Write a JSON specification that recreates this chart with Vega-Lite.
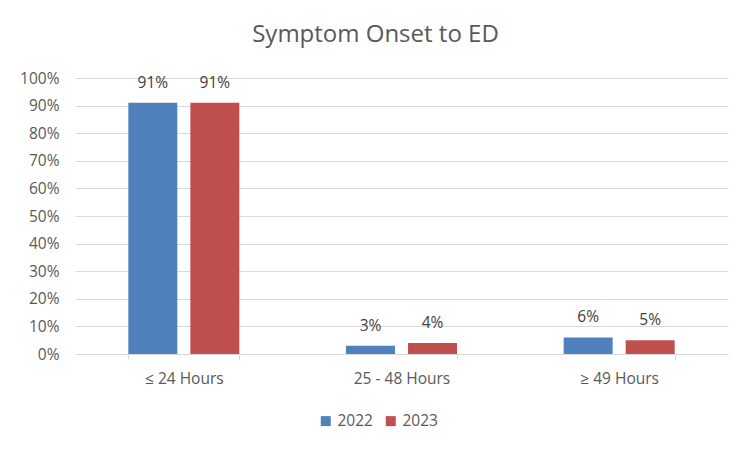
{
  "$schema": "https://vega.github.io/schema/vega-lite/v6.json",
  "autosize": {"type": "none"},
  "width": 653,
  "height": 276,
  "padding": {"left": 75, "top": 78, "right": 24, "bottom": 98},
  "background": "white",
  "config": {
    "font": "Open Sans",
    "view": {"stroke": null}
  },
  "title": {
    "text": "Symptom Onset to ED",
    "fontSize": 24,
    "fontWeight": "normal",
    "color": "#595959",
    "anchor": "middle",
    "frame": "group",
    "dx": -26,
    "offset": 24
  },
  "data": {
    "values": [
      {"category": "≤ 24 Hours", "year": "2022", "value": 0.91},
      {"category": "≤ 24 Hours", "year": "2023", "value": 0.91},
      {"category": "25 - 48 Hours", "year": "2022", "value": 0.03},
      {"category": "25 - 48 Hours", "year": "2023", "value": 0.04},
      {"category": "≥ 49 Hours", "year": "2022", "value": 0.06},
      {"category": "≥ 49 Hours", "year": "2023", "value": 0.05}
    ]
  },
  "encoding": {
    "x": {
      "field": "category",
      "type": "nominal",
      "sort": ["≤ 24 Hours", "25 - 48 Hours", "≥ 49 Hours"],
      "scale": {"paddingInner": 0.49, "paddingOuter": 0.245},
      "axis": {
        "title": null,
        "labelAngle": 0,
        "labelFontSize": 15.5,
        "labelColor": "#595959",
        "labelPadding": 12,
        "domainColor": "#D9D9D9",
        "domainWidth": 1,
        "tickColor": "#D9D9D9",
        "tickSize": 5,
        "tickBand": "extent",
        "grid": false
      }
    },
    "xOffset": {
      "field": "year",
      "type": "nominal",
      "scale": {"paddingInner": 0.21, "paddingOuter": 0}
    },
    "y": {
      "field": "value",
      "type": "quantitative",
      "scale": {"domain": [0, 1]},
      "axis": {
        "title": null,
        "format": ".0%",
        "values": [0, 0.1, 0.2, 0.3, 0.4, 0.5, 0.6, 0.7, 0.8, 0.9, 1],
        "labelFontSize": 15.5,
        "labelColor": "#595959",
        "labelPadding": 16,
        "domain": false,
        "ticks": false,
        "gridColor": "#D9D9D9",
        "gridWidth": 1
      }
    }
  },
  "layer": [
    {
      "mark": {"type": "bar"},
      "encoding": {
        "color": {
          "field": "year",
          "type": "nominal",
          "scale": {"domain": ["2022", "2023"], "range": ["#4F81BD", "#C0504D"]},
          "legend": {
            "title": null,
            "orient": "none",
            "legendX": 243,
            "legendY": 335,
            "direction": "horizontal",
            "symbolType": "square",
            "symbolSize": 100,
            "symbolStrokeWidth": 0,
            "labelFontSize": 15.5,
            "labelColor": "#595959",
            "labelOffset": 4,
            "columnPadding": 10
          }
        }
      }
    },
    {
      "mark": {"type": "text", "baseline": "bottom", "dy": -12, "fontSize": 15.5, "color": "#404040"},
      "encoding": {
        "text": {"field": "value", "type": "quantitative", "format": ".0%"}
      }
    }
  ]
}
